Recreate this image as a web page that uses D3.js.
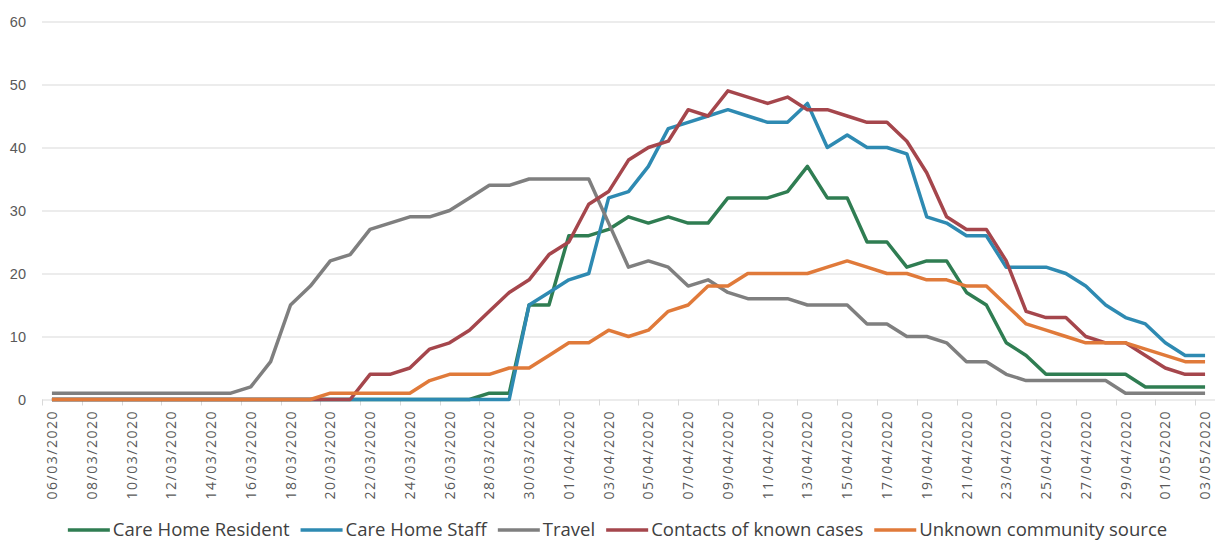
<!DOCTYPE html>
<html>
<head>
<meta charset="utf-8">
<script src="https://cdn.jsdelivr.net/npm/d3@7"></script>
<style>
  body { margin: 0; background: #fff; }
  svg { display: block; font-family: "Open Sans", "Liberation Sans", sans-serif; }
</style>
</head>
<body>
<svg id="chart" width="1221" height="553"></svg>
<script>
const dates = [
  '06/03/2020','07/03/2020','08/03/2020','09/03/2020','10/03/2020','11/03/2020','12/03/2020','13/03/2020',
  '14/03/2020','15/03/2020','16/03/2020','17/03/2020','18/03/2020','19/03/2020','20/03/2020','21/03/2020',
  '22/03/2020','23/03/2020','24/03/2020','25/03/2020','26/03/2020','27/03/2020','28/03/2020','29/03/2020',
  '30/03/2020','31/03/2020','01/04/2020','02/04/2020','03/04/2020','04/04/2020','05/04/2020','06/04/2020',
  '07/04/2020','08/04/2020','09/04/2020','10/04/2020','11/04/2020','12/04/2020','13/04/2020','14/04/2020',
  '15/04/2020','16/04/2020','17/04/2020','18/04/2020','19/04/2020','20/04/2020','21/04/2020','22/04/2020',
  '23/04/2020','24/04/2020','25/04/2020','26/04/2020','27/04/2020','28/04/2020','29/04/2020','30/04/2020',
  '01/05/2020','02/05/2020','03/05/2020'
]

const careHomeResident = [
  0,0,0,0,0,0,0,0,0,0, 0,0,0,0,0,0,0,0,0,0, 0,0,1,1,15,15,26,26,27,29,
  28,29,28,28,32,32,32,33,37,32, 32,25,25,21,22,22,17,15,9,7, 4,4,4,4,4,2,2,2,2
]
const careHomeStaff = [
  0,0,0,0,0,0,0,0,0,0, 0,0,0,0,0,0,0,0,0,0, 0,0,0,0,15,17,19,20,32,33,
  37,43,44,45,46,45,44,44,47,40, 42,40,40,39,29,28,26,26,21,21, 21,20,18,15,13,12,9,7,7
]
const travel = [
  1,1,1,1,1,1,1,1,1,1, 2,6,15,18,22,23,27,28,29,29, 30,32,34,34,35,35,35,35,28,21,
  22,21,18,19,17,16,16,16,15,15, 15,12,12,10,10,9,6,6,4,3, 3,3,3,3,1,1,1,1,1
]
const contacts = [
  0,0,0,0,0,0,0,0,0,0, 0,0,0,0,0,0,4,4,5,8, 9,11,14,17,19,23,25,31,33,38,
  40,41,46,45,49,48,47,48,46,46, 45,44,44,41,36,29,27,27,22,14, 13,13,10,9,9,7,5,4,4
]
const unknownCommunity = [
  0,0,0,0,0,0,0,0,0,0, 0,0,0,0,1,1,1,1,1,3, 4,4,4,5,5,7,9,9,11,10,
  11,14,15,18,18,20,20,20,20,21, 22,21,20,20,19,19,18,18,15,12, 11,10,9,9,9,8,7,6,6
]

const seriesNames = ['Care Home Resident', 'Care Home Staff', 'Travel', 'Contacts of known cases', 'Unknown community source']
const seriesValues = [careHomeResident, careHomeStaff, travel, contacts, unknownCommunity]
const seriesColors = ['#2f7d52', '#2e8ab2', '#7f7f7f', '#a5464c', '#e07a3a']
const yTicks = [0, 10, 20, 30, 40, 50, 60]

const svg = d3.select('#chart')
const plotLeft = 42, plotRight = 1215, plotTop = 21.5, plotBottom = 399.5

const x = d3.scaleBand().domain(dates).range([plotLeft, plotRight]).padding(0)
const y = d3.scaleLinear().domain([0, 60]).range([plotBottom, plotTop])
const cx = d => x(d) + x.bandwidth() / 2

// gridlines + y labels
const yAxis = svg.append('g')
	.attr('transform', `translate(${plotLeft},0)`)
	.call(d3.axisLeft(y).tickValues(yTicks).tickSize(-(plotRight - plotLeft)).tickPadding(16))
yAxis.select('.domain').remove()
yAxis.selectAll('line').attr('stroke', '#d9d9d9').attr('stroke-width', 1)
yAxis.selectAll('text')
	.attr('fill', '#595959')
	.style('font-size', '14.5px')

// x axis ticks between categories
const xg = svg.append('g')
const even = dates.filter((d, i) => i % 2 === 0)
xg.selectAll('line')
	.data(even)
	.enter()
	.append('line')
	.attr('x1', d => Math.round(x(d)) + 0.5)
	.attr('x2', d => Math.round(x(d)) + 0.5)
	.attr('y1', plotBottom)
	.attr('y2', plotBottom + 6)
	.attr('stroke', '#d9d9d9')

xg.selectAll('text')
	.data(even)
	.enter()
	.append('text')
	.attr('transform', d => `translate(${cx(d)},${plotBottom + 12}) rotate(-90)`)
	.attr('text-anchor', 'end')
	.attr('dy', '0.36em')
	.attr('textLength', 88)
	.attr('lengthAdjust', 'spacing')
	.attr('fill', '#595959')
	.style('font-size', '14px')
	.text(d => d)

// lines
const line = d3.line()
	.x((v, i) => cx(dates[i]))
	.y(v => y(v))

svg.append('g')
	.selectAll('path')
	.data(seriesValues)
	.enter()
	.append('path')
	.attr('d', line)
	.attr('fill', 'none')
	.attr('stroke', (d, i) => seriesColors[i])
	.attr('stroke-width', 3.5)
	.attr('stroke-linejoin', 'round')

// legend
const legend = svg.append('g').attr('transform', 'translate(0,530)')
const items = legend.selectAll('g')
	.data(seriesNames)
	.enter()
	.append('g')

items.append('line')
	.attr('x1', 0).attr('x2', 42)
	.attr('y1', 0).attr('y2', 0)
	.attr('stroke', (d, i) => seriesColors[i])
	.attr('stroke-width', 3.5)

items.append('text')
	.attr('x', 45)
	.attr('dy', '0.35em')
	.attr('fill', '#404040')
	.style('font-size', '18.5px')
	.text(d => d)

let widths = []
items.each(function () {
	widths.push(45 + d3.select(this).select('text').node().getComputedTextLength())
})
const gap = 11
const total = d3.sum(widths) + gap * (widths.length - 1)
let pos = 617.5 - total / 2
items.attr('transform', (d, i) => {
	const t = `translate(${pos},0)`
	pos += widths[i] + gap
	return t
})
</script>
</body>
</html>
